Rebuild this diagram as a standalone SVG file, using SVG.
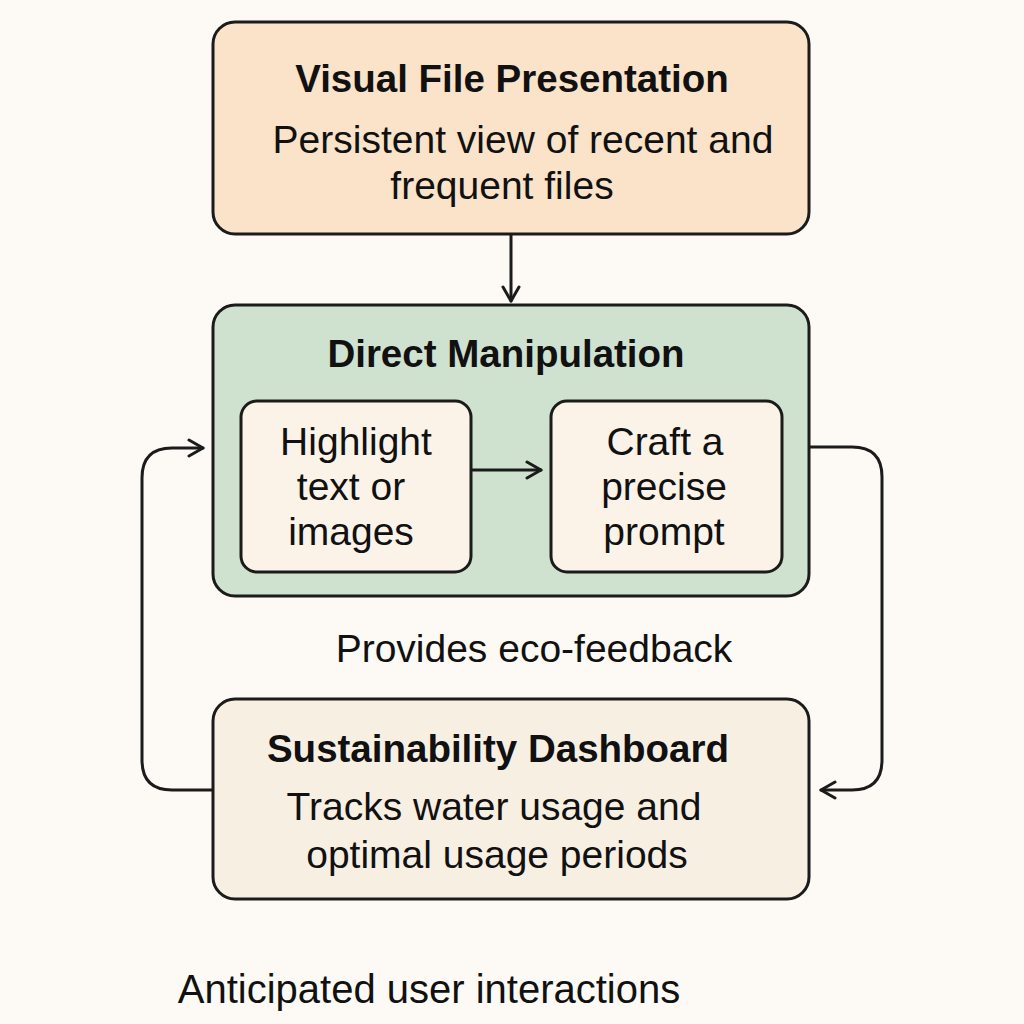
<svg xmlns="http://www.w3.org/2000/svg" width="1024" height="1024" viewBox="0 0 1024 1024">
<defs>
<style>
.box{stroke:#1b1b1b;stroke-width:3}
.t{font-family:"Liberation Sans",Arial,sans-serif;fill:#111;text-anchor:middle}
.b{font-weight:bold;font-size:38.5px}
.r{font-size:39px}
.c{fill:none;stroke:#1b1b1b;stroke-width:3;stroke-linecap:round;stroke-linejoin:round}
</style>
<marker id="ah" viewBox="0 0 20 20" refX="18" refY="10" markerWidth="20" markerHeight="20" markerUnits="userSpaceOnUse" orient="auto">
<path d="M4,2 L18,10 L4,18" fill="none" stroke="#1b1b1b" stroke-width="3" stroke-linecap="round" stroke-linejoin="round"/>
</marker>
</defs>
<rect width="1024" height="1024" fill="#fdfaf5"/>
<g id="visual-file-presentation">
<rect class="box" x="213" y="22" width="596" height="212" rx="22" fill="#fae3c8"/>
<text class="t b" x="512" y="92">Visual File Presentation</text>
<text class="t r" x="523" y="153">Persistent view of recent and</text>
<text class="t r" x="502" y="199">frequent files</text>
</g>
<g id="direct-manipulation">
<rect class="box" x="213" y="305" width="596" height="291" rx="22" fill="#cfe2d0"/>
<text class="t b" x="506" y="367">Direct Manipulation</text>
</g>
<g id="highlight">
<rect class="box" x="241" y="401" width="230" height="171" rx="16" fill="#fbf3e8"/>
<text class="t r" x="356" y="455">Highlight</text>
<text class="t r" x="351" y="500">text or</text>
<text class="t r" x="351" y="545">images</text>
</g>
<g id="craft">
<rect class="box" x="551" y="401" width="231" height="171" rx="16" fill="#fbf3e8"/>
<text class="t r" x="665" y="455">Craft a</text>
<text class="t r" x="664" y="500">precise</text>
<text class="t r" x="664" y="545">prompt</text>
</g>
<g id="eco-label">
<text class="t r" x="534" y="662">Provides eco-feedback</text>
</g>
<g id="sustainability-dashboard">
<rect class="box" x="213" y="699" width="596" height="200" rx="22" fill="#f8efe3"/>
<text class="t b" x="498" y="762">Sustainability Dashboard</text>
<text class="t r" x="494" y="820">Tracks water usage and</text>
<text class="t r" x="497" y="868">optimal usage periods</text>
</g>
<g id="footer">
<text class="t" style="font-size:40px" x="429" y="1003">Anticipated user interactions</text>
</g>
<g id="connectors">
<path class="c" d="M511,235 L511,301" marker-end="url(#ah)"/>
<path class="c" d="M472,470 L541,470" marker-end="url(#ah)"/>
<path class="c" d="M212,790 L172,790 Q142,790 142,760 L142,478 Q142,448 172,448 L203,448" marker-end="url(#ah)"/>
<path class="c" d="M810,447 L852,447 Q882,447 882,477 L882,760 Q882,790 852,790 L821,790" marker-end="url(#ah)"/>
</g>
</svg>
